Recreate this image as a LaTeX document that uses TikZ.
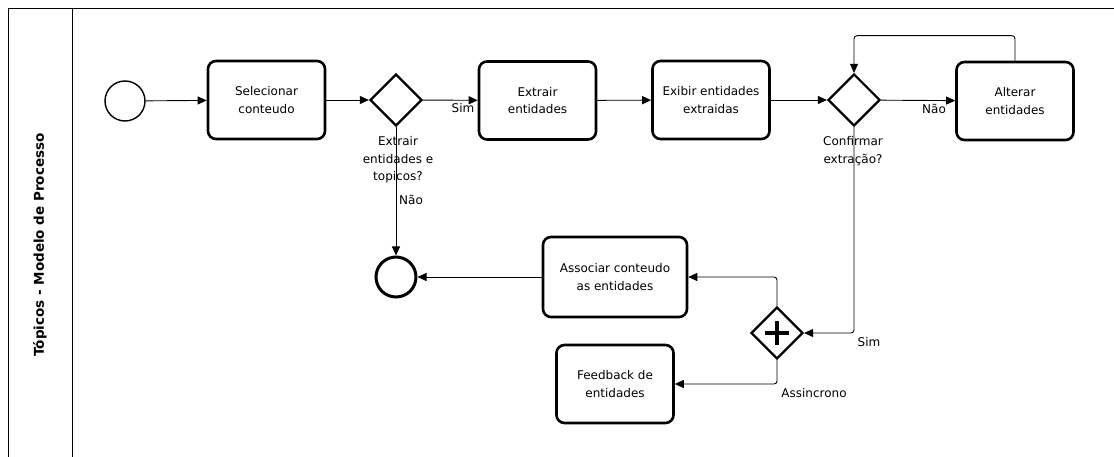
\documentclass[tikz,border=0pt]{standalone}
\usepackage{fontspec}
\setmainfont{DejaVu Sans}
\usetikzlibrary{shapes.geometric,arrows.meta}
\begin{document}
\begin{tikzpicture}[x=1pt,y=-1pt,
  every node/.style={font=\fontsize{12}{17.5}\selectfont},
  task/.style={draw,line width=2.6pt,rounded corners=8pt,minimum width=117pt,minimum height=78pt,align=center,inner sep=2pt},
  gate/.style={draw,diamond,aspect=1,line width=2.2pt,minimum width=52pt,minimum height=52pt,inner sep=0pt},
  flow/.style={line width=0.9pt,-{Triangle[length=9pt,width=8pt]},rounded corners=3pt},
  lbl/.style={align=center,inner sep=0pt}]
\useasboundingbox (0,0) rectangle (1114,457);
% pool
\draw[line width=1pt] (1114,9) -- (8,9) -- (8,460);
\draw[line width=1pt] (72,9) -- (72,460);
\node[rotate=90,font=\fontsize{13.5}{14}\selectfont\bfseries] (pool) at (40,245) {Tópicos - Modelo de Processo};
% nodes
\node[draw,circle,line width=1.4pt,minimum size=40pt,inner sep=0pt] (start) at (125,101) {};
\node[task] (sel) at (266.5,100) {Selecionar\\conteudo};
\node[gate] (gw1) at (396,100) {};
\node[task] (ext) at (537.5,100.5) {Extrair\\entidades};
\node[task] (exb) at (711,100) {Exibir entidades\\extraidas};
\node[gate] (gw2) at (854,100) {};
\node[task] (alt) at (1015,101) {Alterar\\entidades};
\node[draw,circle,line width=3pt,minimum size=40pt,inner sep=0pt] (end) at (396,277) {};
\node[task,minimum width=144pt,minimum height=80pt] (assoc) at (615,277) {Associar conteudo\\as entidades};
\node[task] (feed) at (615,384) {Feedback de\\entidades};
\node[gate] (par) at (777,333) {};
\draw[line width=4.5pt] ([xshift=-12pt]par.center) -- ([xshift=12pt]par.center);
\draw[line width=4.5pt] ([yshift=-12pt]par.center) -- ([yshift=12pt]par.center);
% labels
\node[lbl] (l1) at (398,160) {Extrair\\entidades e\\topicos?};
\node[lbl] (l2) at (411,200) {Não};
\node[lbl] (l3) at (463,108) {Sim};
\node[lbl] (l4) at (853,151) {Confirmar\\extração?};
\node[lbl] (l5) at (934,109) {Não};
\node[lbl] (l6) at (869,342) {Sim};
\node[lbl] (l7) at (814,393) {Assincrono};
% connectors
\draw[flow] (start) -- (sel);
\draw[flow] (sel) -- (gw1);
\draw[flow] (gw1) -- (ext);
\draw[flow] (ext) -- (exb);
\draw[flow] (exb) -- (gw2);
\draw[flow] (gw2) -- (alt);
\draw[flow] (gw1) -- (end);
\draw[flow] (alt.north) -- ++(0,-25) -| (gw2.north);
\draw[flow] (gw2.south) |- (par.east);
\draw[flow] (par.north) |- (assoc.east);
\draw[flow] (par.south) |- (feed.east);
\draw[flow] (assoc) -- (end);
\end{tikzpicture}
\end{document}
